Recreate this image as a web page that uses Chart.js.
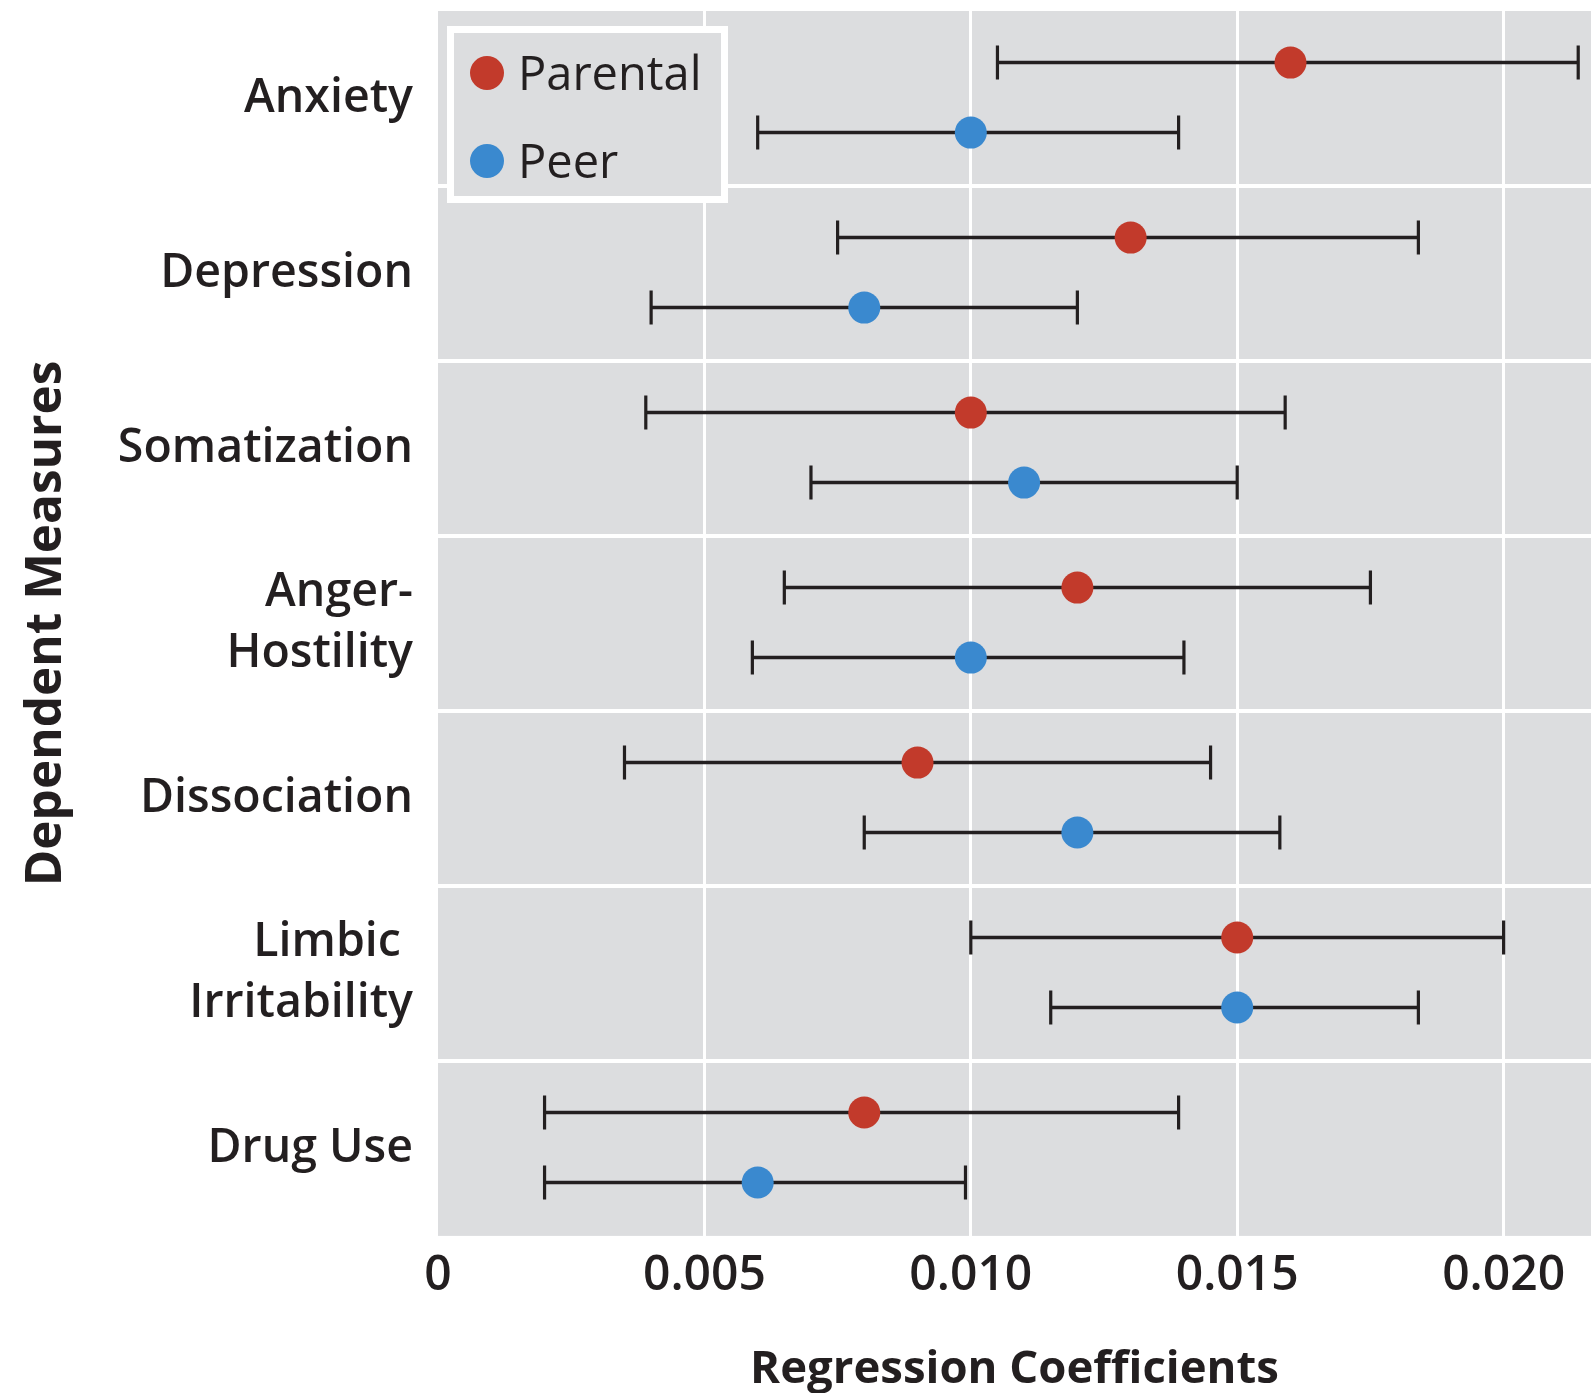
<!DOCTYPE html>
<html>
<head>
<meta charset="utf-8">
<title>Regression Coefficients by Dependent Measure</title>
<script src="https://cdn.jsdelivr.net/npm/chart.js@4.4.1/dist/chart.umd.min.js"></script>
<style>
  html, body { margin: 0; padding: 0; background: #ffffff; }
  #wrap { width: 1591px; height: 1393px; }
  canvas { display: block; }
</style>
</head>
<body>
<div id="wrap"><canvas id="chart" width="1591" height="1393"></canvas></div>
<script>
// Dependent measures (multi-line labels are arrays)
const categories = [
  'Anxiety',
  'Depression',
  'Somatization',
  ['Anger-', 'Hostility'],
  'Dissociation',
  ['Limbic ', 'Irritability'],
  'Drug Use'
];

// Parental verbal aggression: coefficient and interval bounds
const parentalCoef = [0.016, 0.013, 0.010, 0.012, 0.009, 0.015, 0.008];
const parentalLow  = [0.0105, 0.0075, 0.0039, 0.0065, 0.0035, 0.0100, 0.0020];
const parentalHigh = [0.0214, 0.0184, 0.0159, 0.0175, 0.0145, 0.0200, 0.0139];

// Peer verbal aggression: coefficient and interval bounds
const peerCoef = [0.010, 0.008, 0.011, 0.010, 0.012, 0.015, 0.006];
const peerLow  = [0.0060, 0.0040, 0.0070, 0.0059, 0.0080, 0.0115, 0.0020];
const peerHigh = [0.0139, 0.0120, 0.0150, 0.0140, 0.0158, 0.0184, 0.0099];

// Horizontal axis ticks
const xTickValues = [0, 0.005, 0.010, 0.015, 0.020];
const xTickLabels = ['0', '0.005', '0.010', '0.015', '0.020'];

const seriesNames = ['Parental', 'Peer'];
const seriesColors = ['#c23a2b', '#3a89cf'];

const TEXT = '#231f20';
const PANEL = '#dcdddf';
const FONT = "'Open Sans', 'DejaVu Sans', sans-serif";

// Each measure occupies one band; the two series sit above and below its centre
const rowShift = [-0.205, 0.195];

function toPoints(values, shift) {
  return values.map((v, i) => ({ x: v, y: i + shift }));
}

// Grey panel behind the plotting area
const panelBackground = {
  id: 'panelBackground',
  beforeDraw(chart) {
    const { ctx, chartArea: a } = chart;
    ctx.save();
    ctx.fillStyle = PANEL;
    ctx.fillRect(a.left, a.top, a.right - a.left, a.bottom - a.top);
    ctx.restore();
  }
};

// Horizontal interval whiskers with end caps, drawn beneath the markers
const intervalBars = {
  id: 'intervalBars',
  beforeDatasetsDraw(chart) {
    const { ctx } = chart;
    const xs = chart.scales.x;
    ctx.save();
    ctx.strokeStyle = TEXT;
    chart.data.datasets.forEach((ds, di) => {
      const meta = chart.getDatasetMeta(di);
      ds.lower.forEach((lo, i) => {
        const hi = ds.upper[i];
        const y = meta.data[i].y;
        const x0 = xs.getPixelForValue(lo);
        const x1 = xs.getPixelForValue(hi);
        ctx.lineWidth = 3.5;
        ctx.beginPath();
        ctx.moveTo(x0, y);
        ctx.lineTo(x1, y);
        ctx.stroke();
        ctx.lineWidth = 3.2;
        ctx.beginPath();
        ctx.moveTo(x0, y - 17);
        ctx.lineTo(x0, y + 17);
        ctx.moveTo(x1, y - 17);
        ctx.lineTo(x1, y + 17);
        ctx.stroke();
      });
    });
    ctx.restore();
  }
};

// Boxed legend in the upper-left corner of the panel
const boxedLegend = {
  id: 'boxedLegend',
  afterDraw(chart) {
    const { ctx, chartArea: a } = chart;
    const left = a.left + 9, top = a.top + 15, w = 281, h = 177;
    ctx.save();
    ctx.fillStyle = PANEL;
    ctx.fillRect(left, top, w, h);
    ctx.strokeStyle = '#ffffff';
    ctx.lineWidth = 7;
    ctx.strokeRect(left + 3.5, top + 3.5, w - 7, h - 7);
    chart.data.datasets.forEach((ds, i) => {
      const cy = top + 47 + i * 88;
      ctx.fillStyle = ds.backgroundColor;
      ctx.beginPath();
      ctx.arc(left + 40, cy, 17, 0, Math.PI * 2);
      ctx.fill();
      ctx.fillStyle = TEXT;
      ctx.font = `500 47px ${FONT}`;
      ctx.textAlign = 'left';
      ctx.textBaseline = 'alphabetic';
      ctx.fillText(ds.label, left + 71, cy + 17);
    });
    ctx.restore();
  }
};

new Chart(document.getElementById('chart'), {
  type: 'scatter',
  data: {
    datasets: [
      {
        label: seriesNames[0],
        data: toPoints(parentalCoef, rowShift[0]),
        lower: parentalLow,
        upper: parentalHigh,
        backgroundColor: seriesColors[0],
        borderWidth: 0,
        pointRadius: 16,
        pointHoverRadius: 16,
        xAxisID: 'x',
        yAxisID: 'yv'
      },
      {
        label: seriesNames[1],
        data: toPoints(peerCoef, rowShift[1]),
        lower: peerLow,
        upper: peerHigh,
        backgroundColor: seriesColors[1],
        borderWidth: 0,
        pointRadius: 16,
        pointHoverRadius: 16,
        xAxisID: 'x',
        yAxisID: 'yv'
      }
    ]
  },
  options: {
    responsive: false,
    animation: false,
    devicePixelRatio: 1,
    layout: { autoPadding: false, padding: { top: 11, right: 0, bottom: 0, left: 0 } },
    plugins: {
      legend: { display: false },
      tooltip: { enabled: false }
    },
    scales: {
      x: {
        type: 'linear',
        position: 'bottom',
        min: 0,
        max: 0.02164,
        afterBuildTicks(scale) {
          scale.ticks = xTickValues.map(v => ({ value: v }));
        },
        afterFit(scale) {
          scale.paddingLeft = 0;
          scale.paddingRight = 0;
        },
        grid: {
          color: ctx => (ctx.tick && ctx.tick.value === 0) ? 'rgba(0,0,0,0)' : '#ffffff',
          lineWidth: 3,
          drawTicks: false
        },
        border: { display: false },
        ticks: {
          autoSkip: false,
          maxRotation: 0,
          padding: 12,
          color: TEXT,
          font: { family: FONT, size: 48, weight: '600', lineHeight: 1.2 },
          callback: v => xTickLabels[xTickValues.indexOf(v)]
        },
        title: {
          display: true,
          text: 'Regression Coefficients',
          color: TEXT,
          font: { family: FONT, size: 45.5, weight: 'bold', lineHeight: 1.0 },
          padding: { top: 30, bottom: 0 }
        }
      },
      y: {
        type: 'category',
        labels: categories,
        position: 'left',
        offset: true,
        afterFit(scale) {
          scale.width = 438;
          scale.paddingTop = 0;
          scale.paddingBottom = 0;
        },
        grid: {
          offset: true,
          color: ctx => (ctx.type === 'tick' && ctx.index > 0) ? '#ffffff' : 'rgba(0,0,0,0)',
          lineWidth: 4,
          drawTicks: false
        },
        border: { display: false },
        ticks: {
          padding: 25,
          color: TEXT,
          font: { family: FONT, size: 46.5, weight: '600', lineHeight: 1.3 }
        },
        title: {
          display: true,
          text: 'Dependent Measures',
          color: TEXT,
          font: { family: FONT, size: 49.5, weight: 'bold', lineHeight: 1.0 },
          padding: { top: 22, bottom: 0 }
        }
      },
      yv: {
        type: 'linear',
        display: false,
        position: 'left',
        min: -0.5,
        max: 6.5,
        reverse: true
      }
    }
  },
  plugins: [panelBackground, intervalBars, boxedLegend]
});
</script>
</body>
</html>
